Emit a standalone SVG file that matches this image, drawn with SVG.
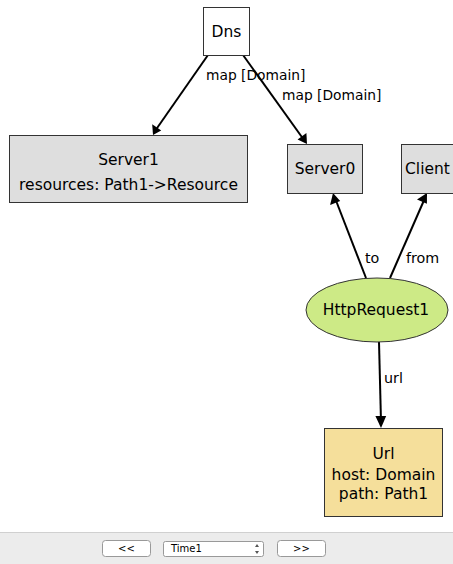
<svg xmlns="http://www.w3.org/2000/svg" width="453" height="564" viewBox="0 0 453 564">
<style>
text{font-family:"DejaVu Sans","Liberation Sans",sans-serif;font-size:15.5px;fill:#000}
.c{text-anchor:middle}
.lbl{font-size:14.3px}
.map{font-size:13.8px}
.box{stroke:#333;stroke-width:1}
.edge{stroke:#000;stroke-width:2;fill:none}
.btn{fill:#fff;stroke:#999;stroke-width:1}
.small{font-size:10px}
</style>
<rect width="453" height="564" fill="#fff"/>
<g id="connectors">
<path class="edge" d="M208,55 L155,131"/>
<path d="M153,135 L152.2,124.3 L161.2,130.5 z" fill="#000"/>
<path class="edge" d="M243,55 L304,140"/>
<path d="M307,144 L297.6,139.4 L306.4,133.1 z" fill="#000"/>
<path class="edge" d="M366,278 L335,198"/>
<path d="M333,193 L340.2,201 L330.1,204.9 z" fill="#000"/>
<path class="edge" d="M390,278 L425,198"/>
<path d="M427,193 L426.9,203.8 L417.0,199.5 z" fill="#000"/>
<path class="edge" d="M379,342 L381,422"/>
<path d="M381,428 L375.4,416.1 L386.2,415.9 z" fill="#000"/>
<text class="map" x="206" y="80">map [Domain]</text>
<text class="map" x="282" y="100">map [Domain]</text>
<text class="lbl" x="365" y="263">to</text>
<text class="lbl" x="406" y="263">from</text>
<text class="lbl" x="384" y="383">url</text>
</g>
<g id="Dns">
<rect class="box" x="203.5" y="7.5" width="46" height="48" fill="#fff"/>
<text class="c" x="226.5" y="37">Dns</text>
</g>
<g id="Server1">
<rect class="box" x="9.5" y="135.5" width="238" height="67" fill="#dedede"/>
<text class="c" x="128.5" y="165">Server1</text>
<text class="c" x="128.5" y="190">resources: Path1-&gt;Resource</text>
</g>
<g id="Server0">
<rect class="box" x="287.5" y="144.5" width="75" height="49" fill="#dedede"/>
<text class="c" x="325" y="174">Server0</text>
</g>
<g id="Client">
<rect class="box" x="401.5" y="144.5" width="58" height="49" fill="#dedede"/>
<text x="405" y="174">Client</text>
</g>
<g id="HttpRequest1">
<ellipse class="box" cx="377" cy="310" rx="71" ry="32" fill="#cdea86"/>
<text class="c" x="376" y="315">HttpRequest1</text>
</g>
<g id="Url">
<rect class="box" x="324.5" y="428.5" width="118" height="88" fill="#f5df9b"/>
<text class="c" x="383.5" y="459">Url</text>
<text class="c" x="383.5" y="480">host: Domain</text>
<text class="c" x="383.5" y="499">path: Path1</text>
</g>
<g id="toolbar">
<rect x="0" y="532" width="453" height="32" fill="#ececec"/>
<line x1="0" y1="532.5" x2="453" y2="532.5" stroke="#d0d0d0"/>
<rect class="btn" x="102.5" y="540.5" width="48" height="16" rx="3"/>
<text class="c small" x="126.5" y="552">&lt;&lt;</text>
<rect class="btn" x="163.5" y="541.5" width="100" height="15" rx="2"/>
<text class="small" x="171" y="552">Time1</text>
<path d="M255,547 l2,-3 l2,3 z M255,551 l2,3 l2,-3 z" fill="#555"/>
<rect class="btn" x="277.5" y="540.5" width="48" height="16" rx="3"/>
<text class="c small" x="301.5" y="552">&gt;&gt;</text>
</g>
</svg>
